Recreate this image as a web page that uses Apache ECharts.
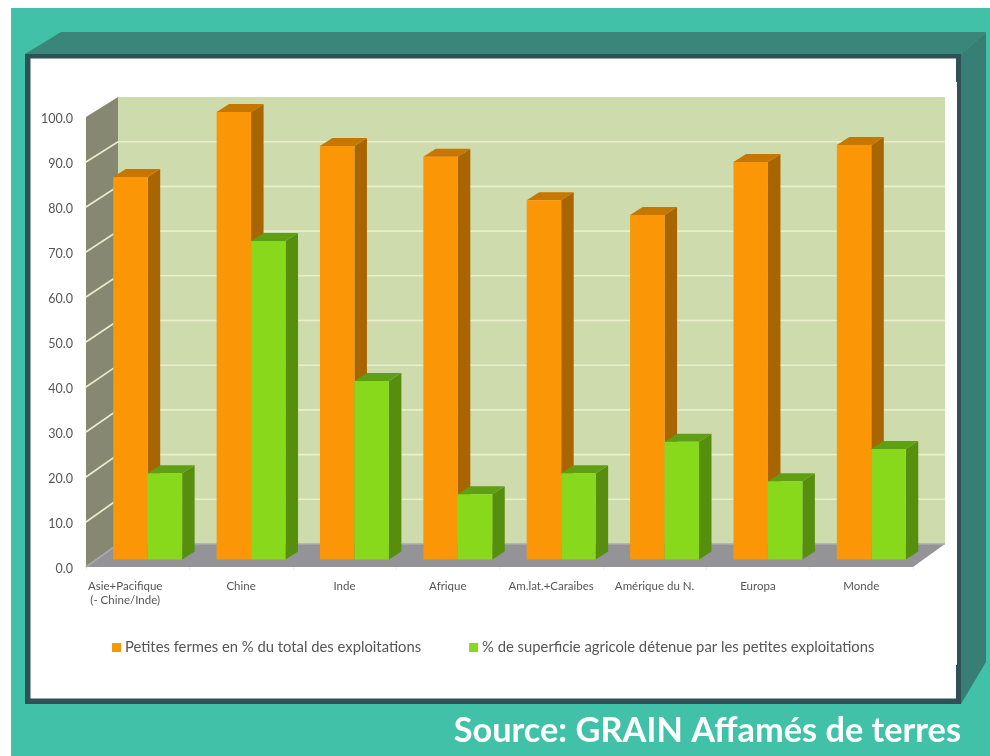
<!DOCTYPE html>
<html>
<head>
<meta charset="utf-8">
<style>html,body{margin:0;padding:0;background:#fff}#c{width:990px;height:756px}</style>
<script src="https://cdn.jsdelivr.net/npm/echarts@6/dist/echarts.min.js"></script>
</head>
<body>
<div id="c"></div>
<script>
const categories = ['Asie+Pacifique\n(- Chine/Inde)', 'Chine', 'Inde', 'Afrique', 'Am.lat.+Caraibes', 'Amérique du N.', 'Europa', 'Monde'];
const petitesFermes = [85.5, 100, 92.4, 90, 80.3, 77, 88.8, 92.6];
const superficie = [19.3, 71.2, 39.9, 14.6, 19.3, 26.3, 17.5, 24.7];
const seriesNames = ['Petites fermes en % du total des exploitations', '% de superficie agricole détenue par les petites exploitations'];
const valueTicks = [0, 10, 20, 30, 40, 50, 60, 70, 80, 90, 100];
const sourceText = 'Source: GRAIN Affamés de terres';

const FONT = 'Lato, "Open Sans", sans-serif';
const ORANGE = {front: '#fb9606', side: '#a96500', top: '#c67700'};
const GREEN = {front: '#88d81c', side: '#568f0e', top: '#5f9f14'};

function poly(points, fill, z2) {
  return {type: 'polygon', z2: z2 || 0, shape: {points}, style: {fill}};
}
const rect = (x, y, w, h, fill) => ({type: 'rect', silent: true, shape: {x, y, width: w, height: h}, style: {fill}, z: -10});
const gpoly = (points, fill) => ({type: 'polygon', silent: true, shape: {points}, style: {fill}, z: -10});

// back wall, side wall and floor, positioned from the main axes
function renderWalls(params, api) {
  const dx = 32;
  const dyAt = v => -23 + 0.03 * v;
  const nCat = categories.length;
  const left = api.coord([0, 0])[0] - api.size([1, 0])[0] / 2;
  const right = left + api.size([1, 0])[0] * nCat;
  const y = v => api.coord([0, v])[1];
  const by = v => y(v) + dyAt(v);
  const kids = [
    poly([[left + dx, by(100)], [right + dx, by(100)], [right + dx, by(0)], [left + dx, by(0)]], '#cedbac'),
    poly([[left, y(100)], [left + dx, by(100)], [left + dx, by(0)], [left, y(0)]], '#868872'),
    poly([[left, y(0)], [left + dx, by(0)], [right + dx, by(0)], [right, y(0)]], '#949498')
  ];
  valueTicks.forEach(v => {
    if (v === 100) return;
    kids.push({type: 'polyline', shape: {points: [[left, y(v)], [left + dx, by(v)], [right + dx, by(v)]]},
      style: {stroke: v === 0 ? '#aaaaa8' : '#e9efcb', lineWidth: 1.6, fill: null}});
  });
  return {type: 'group', children: kids};
}

// one 3D bar: front face, side face and top face
function barRenderer(colors, sideIndex) {
  return function (params, api) {
    const i = api.value(0);
    const v = api.value(1);
    const band = api.size([1, 0])[0];
    const w = band / 3;
    const c = api.coord([i, v]);
    const b = api.coord([i, 0]);
    const x0 = c[0] - w + sideIndex * w;
    const x1 = x0 + w;
    const dx = 12.5, dy = -8;
    return {type: 'group', children: [
      poly([[x1, c[1]], [x1 + dx, c[1] + dy], [x1 + dx, b[1] + dy], [x1, b[1]]], colors.side),
      poly([[x0, c[1]], [x0 + dx, c[1] + dy], [x1 + dx, c[1] + dy], [x1, c[1]]], colors.top),
      poly([[x0, c[1]], [x1, c[1]], [x1, b[1]], [x0, b[1]]], colors.front)
    ]};
  };
}

const catData = categories.map((c, i) => i === 0 ? {value: c, textStyle: {padding: [0, 25, 0, 0]}} : c);

const chart = echarts.init(document.getElementById('c'), null, {renderer: 'canvas'});
chart.setOption({
  backgroundColor: '#fff',
  animation: false,
  textStyle: {fontFamily: FONT},
  graphic: [
    rect(11, 8, 979, 748, '#41c2a8'),
    gpoly([[25, 54], [61, 32], [986, 32], [961, 54]], '#3b867a'),
    gpoly([[961, 54], [986, 32], [986, 662], [961, 704]], '#377f74'),
    rect(25, 54, 936, 650, '#2f5055'),
    rect(30.5, 58.5, 925.5, 640, '#ffffff'),
    rect(956, 82, 1, 583, '#ffffff'),
    {type: 'text', silent: true, z: 10, style: {text: sourceText, x: 961, y: 731, align: 'right', verticalAlign: 'middle',
      fill: '#fff', font: '700 34.3px ' + FONT}}
  ],
  legend: {
    data: seriesNames, left: 107, top: 635, itemGap: 48, itemWidth: 9, itemHeight: 9,
    icon: 'rect', selectedMode: false,
    textStyle: {fontSize: 14.8, color: '#555', fontFamily: FONT, padding: [0, 0, 0, -1]}
  },
  grid: [
    {left: 86, right: 77, top: 117, bottom: 189},
    {left: 96, right: 67, top: 112, bottom: 196.5}
  ],
  xAxis: [
    {type: 'category', gridIndex: 0, data: catData, axisLine: {show: false},
      axisTick: {show: true, length: 3, lineStyle: {color: '#eee'}},
      axisLabel: {margin: 12, fontSize: 11.5, lineHeight: 14, color: '#555', interval: 0, fontFamily: FONT}},
    {type: 'category', gridIndex: 1, data: categories, show: false}
  ],
  yAxis: [
    {type: 'value', gridIndex: 0, min: 0, max: 100, interval: 10, splitLine: {show: false},
      axisLine: {show: false}, axisTick: {show: false},
      axisLabel: {margin: 13, fontSize: 12.5, color: '#555', fontFamily: FONT, verticalAlign: 'top', lineHeight: 4, formatter: v => v.toFixed(1)}},
    {type: 'value', gridIndex: 1, min: 0, max: 100, interval: 10, show: false}
  ],
  series: [
    {type: 'custom', name: 'walls', xAxisIndex: 0, yAxisIndex: 0, silent: true, z: 1, clip: false,
      renderItem: renderWalls, data: [[0, 0]]},
    {type: 'custom', name: seriesNames[0], xAxisIndex: 1, yAxisIndex: 1, z: 2, clip: false,
      itemStyle: {color: ORANGE.front}, renderItem: barRenderer(ORANGE, 0),
      encode: {x: 0, y: 1}, data: petitesFermes.map((v, i) => [i, v])},
    {type: 'custom', name: seriesNames[1], xAxisIndex: 1, yAxisIndex: 1, z: 3, clip: false,
      itemStyle: {color: GREEN.front}, renderItem: barRenderer(GREEN, 1),
      encode: {x: 0, y: 1}, data: superficie.map((v, i) => [i, v])}
  ]
});
</script>
</body>
</html>
